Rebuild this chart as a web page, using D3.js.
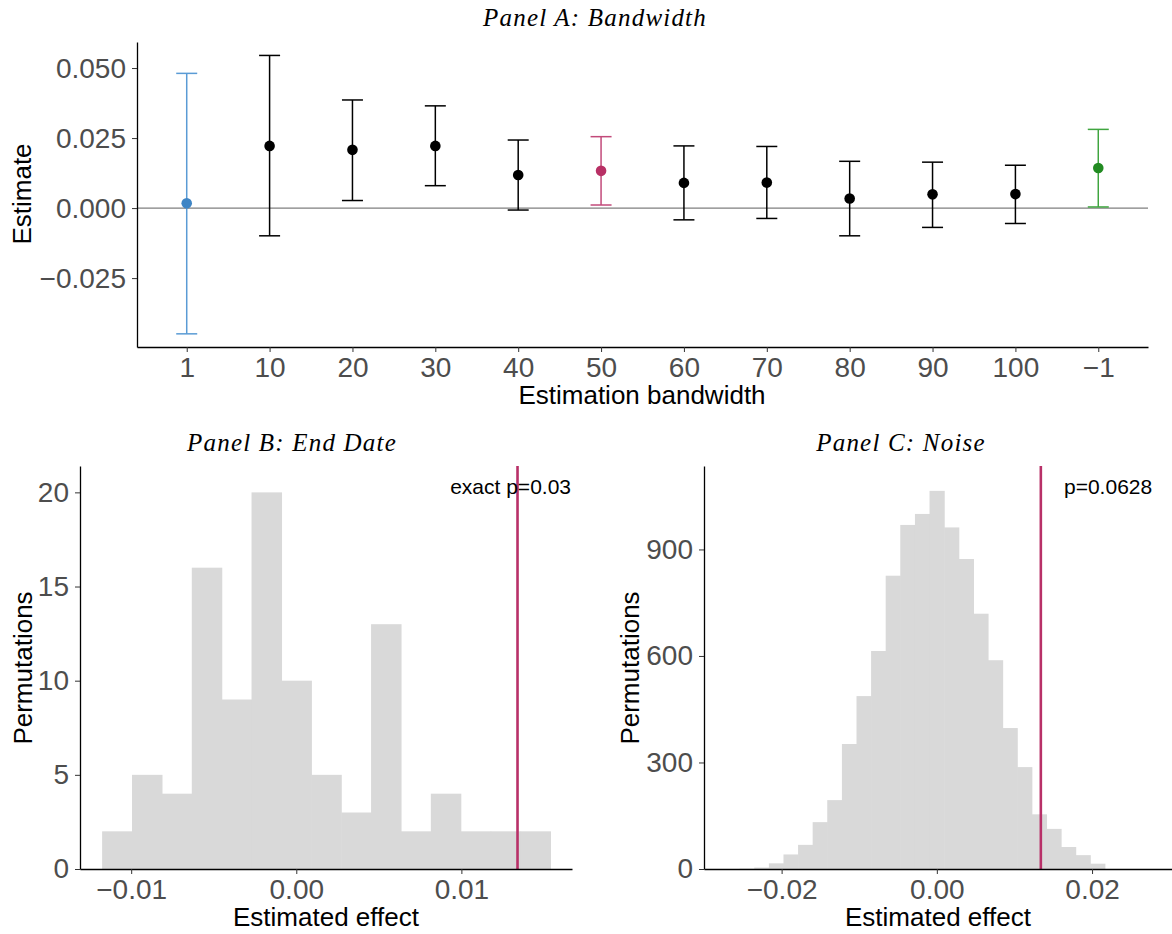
<!DOCTYPE html>
<html>
<head>
<meta charset="utf-8">
<script src="https://cdn.jsdelivr.net/npm/d3@7"></script>
<style>
  body { margin: 0; background: #fff; }
  svg { display: block; font-family: "Liberation Sans", Arial, sans-serif; }
  .tick text { fill: #4d4d4d; font-size: 28px; }
  .tick line { stroke: #333; }
  .domain { stroke: #000; stroke-width: 1.3px; }
  .ptitle { font-family: "Liberation Serif", serif; font-style: italic; font-size: 25px; letter-spacing: 1.2px; }
  .atitle { font-size: 26px; fill: #000; }
  .note { font-size: 21px; fill: #000; }
</style>
</head>
<body>
<div id="chart"></div>
<script>
// Panel A: estimates by bandwidth
var bandwidths = ["1", "10", "20", "30", "40", "50", "60", "70", "80", "90", "100", "\u22121"]
var estimates = [0.0017, 0.0222, 0.0208, 0.0222, 0.0118, 0.0133, 0.0090, 0.0091, 0.0034, 0.0049, 0.0050, 0.0143]
var lowerCI = [-0.0449, -0.0099, 0.0027, 0.0080, -0.0007, 0.0011, -0.0042, -0.0037, -0.0099, -0.0069, -0.0055, 0.0004]
var upperCI = [0.0481, 0.0545, 0.0386, 0.0365, 0.0243, 0.0255, 0.0222, 0.0220, 0.0167, 0.0164, 0.0153, 0.0281]
var ticksA = [-0.025, 0, 0.025, 0.05]

// Panel B: end date permutations
var edgesB = [-0.01176, -0.00995, -0.00814, -0.00633, -0.00452, -0.00271, -0.00090, 0.00091,
    0.00272, 0.00453, 0.00634, 0.00815, 0.00996, 0.01177, 0.01358, 0.01539]
var countsB = [2, 5, 4, 16, 9, 20, 10, 5, 3, 13, 2, 4, 2, 2, 2]
var ticksBx = [-0.01, 0, 0.01]
var ticksBy = [0, 5, 10, 15, 20]

// Panel C: noise permutations
var edgesC = [-0.02541, -0.02353, -0.02164, -0.01976, -0.01788, -0.01600, -0.01412, -0.01223,
    -0.01035, -0.00847, -0.00659, -0.00471, -0.00282, -0.00094, 0.00094, 0.00282, 0.00471,
    0.00659, 0.00847, 0.01035, 0.01223, 0.01412, 0.01600, 0.01788, 0.01976, 0.02164]
var countsC = [1, 4, 16, 41, 68, 132, 194, 352, 487, 614, 826, 969, 1000, 1065, 962, 873,
    719, 588, 397, 287, 154, 113, 62, 39, 15]
var ticksCx = [-0.02, 0, 0.02]
var ticksCy = [0, 300, 600, 900]

var observed = 0.0134

var colorOf = { "1": "#3f85c5", "50": "#b83065", "\u22121": "#228b22" }
var barColorOf = { "1": "#5a9bd5", "50": "#c24a7a", "\u22121": "#3fa53f" }

const svg = d3.select("#chart")
    .append("svg")
    .attr("width", 1172)
    .attr("height", 934)

svg.append("rect").attr("width", 1172).attr("height", 934).attr("fill", "#fff")

function yTitle(x, y, text) {
    svg.append("text")
        .attr("class", "atitle")
        .attr("transform", `translate(${x},${y}) rotate(-90)`)
        .attr("text-anchor", "middle")
        .text(text)
}

function xTitle(x, y, text) {
    svg.append("text")
        .attr("class", "atitle")
        .attr("x", x).attr("y", y)
        .attr("text-anchor", "middle")
        .text(text)
}

function pTitle(x, y, text) {
    svg.append("text")
        .attr("class", "ptitle")
        .attr("x", x).attr("y", y)
        .attr("text-anchor", "middle")
        .text(text)
}

// ---------- Panel A ----------
var xA = d3.scalePoint()
    .domain(bandwidths)
    .range([137, 1148])
    .padding(0.6)

var yA = d3.scaleLinear()
    .domain([-0.0496, 0.0593])
    .range([347, 42])

svg.append("line")
    .attr("x1", xA.range()[0]).attr("x2", xA.range()[1])
    .attr("y1", yA(0)).attr("y2", yA(0))
    .attr("stroke", "#7f7f7f").attr("stroke-width", 1.2)

var rowsA = bandwidths.map(function (b, i) {
    return { bw: b, est: estimates[i], lo: lowerCI[i], hi: upperCI[i] }
})

var bars = svg.append("g").selectAll("g")
    .data(rowsA)
    .join("g")
    .attr("stroke", d => barColorOf[d.bw] || "#000")
    .attr("stroke-width", 1.5)

bars.append("line")
    .attr("x1", d => xA(d.bw)).attr("x2", d => xA(d.bw))
    .attr("y1", d => yA(d.lo)).attr("y2", d => yA(d.hi))
bars.append("line")
    .attr("x1", d => xA(d.bw) - 10.5).attr("x2", d => xA(d.bw) + 10.5)
    .attr("y1", d => yA(d.hi)).attr("y2", d => yA(d.hi))
bars.append("line")
    .attr("x1", d => xA(d.bw) - 10.5).attr("x2", d => xA(d.bw) + 10.5)
    .attr("y1", d => yA(d.lo)).attr("y2", d => yA(d.lo))

svg.append("g").selectAll("circle")
    .data(rowsA)
    .join("circle")
    .attr("cx", d => xA(d.bw))
    .attr("cy", d => yA(d.est))
    .attr("r", 5.3)
    .attr("fill", d => colorOf[d.bw] || "#000")

svg.append("g")
    .attr("transform", `translate(137,0)`)
    .call(d3.axisLeft(yA).tickValues(ticksA).tickFormat(d3.format(".3f")).tickSize(5).tickPadding(6).tickSizeOuter(0))
svg.append("g")
    .attr("transform", `translate(0,347)`)
    .call(d3.axisBottom(xA).tickSize(5).tickPadding(5).tickSizeOuter(0))

pTitle(595, 26, "Panel A: Bandwidth")
yTitle(31, 194, "Estimate")
xTitle(642, 404, "Estimation bandwidth")

// ---------- Histograms ----------
function histogram(edges, counts, xDomain, xRange, yDomain, xTicks, yTicks) {
    var x = d3.scaleLinear().domain(xDomain).range(xRange)
    var y = d3.scaleLinear().domain(yDomain).range([869, 466])
    var bins = counts.map(function (c, i) {
        return { x0: edges[i], x1: edges[i + 1], n: c }
    })
    svg.append("g").selectAll("rect")
        .data(bins)
        .join("rect")
        .attr("x", d => x(d.x0))
        .attr("width", d => x(d.x1) - x(d.x0) + 0.6)
        .attr("y", d => y(d.n))
        .attr("height", d => y(0) - y(d.n))
        .attr("fill", "#d9d9d9")
    svg.append("line")
        .attr("x1", x(observed)).attr("x2", x(observed))
        .attr("y1", y.range()[1]).attr("y2", y.range()[0])
        .attr("stroke", "#b83068").attr("stroke-width", 2.6)
    svg.append("g")
        .attr("transform", `translate(${xRange[0]},0)`)
        .call(d3.axisLeft(y).tickValues(yTicks).tickSize(5).tickPadding(6).tickSizeOuter(0))
    svg.append("g")
        .attr("transform", `translate(0,869)`)
        .call(d3.axisBottom(x).tickValues(xTicks).tickFormat(d3.format(".2f")).tickSize(5).tickPadding(5).tickSizeOuter(0))
    return x
}

histogram(edgesB, countsB, [-0.0131, 0.0167], [80, 572], [0, 21.4], ticksBx, ticksBy)
pTitle(292, 451, "Panel B: End Date")
yTitle(32, 668, "Permutations")
xTitle(326, 926, "Estimated effect")
svg.append("text").attr("class", "note")
    .attr("x", 571).attr("y", 494)
    .attr("text-anchor", "end")
    .text("exact p=0.03")

histogram(edgesC, countsC, [-0.0300, 0.0303], [704, 1172], [0, 1135], ticksCx, ticksCy)
pTitle(901, 451, "Panel C: Noise")
yTitle(639, 668, "Permutations")
xTitle(938, 926, "Estimated effect")
svg.append("text").attr("class", "note")
    .attr("x", 1064).attr("y", 494)
    .text("p=0.0628")
</script>
</body>
</html>
